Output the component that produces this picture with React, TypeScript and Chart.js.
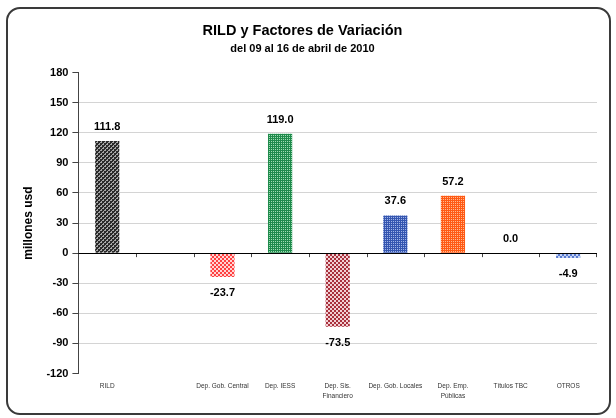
import React, { useEffect, useRef } from "react";
import { Chart, registerables } from "chart.js";

Chart.register(...registerables);

const TITLE = "RILD y Factores de Variación";
const SUBTITLE = "del 09 al 16 de abril de 2010";
const Y_TITLE = "millones usd";

const categories: (string | string[])[] = [
  "RILD",
  "",
  "Dep. Gob. Central",
  "Dep. IESS",
  ["Dep. Sis.", "Financiero"],
  "Dep. Gob. Locales",
  ["Dep. Emp.", "Públicas"],
  "Títulos TBC",
  "OTROS",
];
const values: (number | null)[] = [111.8, null, -23.7, 119.0, -73.5, 37.6, 57.2, 0.0, -4.9];
const darkColors = ["#2a2a2a", "#888", "#ff4040", "#1f8a4c", "#a8303c", "#3556b0", "#ff5a14", "#888", "#5a7cd0"];
const lightColors = ["#a8a8a8", "#ccc", "#ffd4d4", "#a0dcb4", "#f2d0d4", "#a0b4e8", "#ffb890", "#ccc", "#c4d2f4"];
const patternKinds = ["diag", "dots", "check", "dots", "check", "dots", "dots", "dots", "check"];
const yMin = -120;
const yMax = 180;
const yStep = 30;

const FONT = "'Liberation Sans', Arial, sans-serif";

function makePattern(dark: string, light: string, kind: string): CanvasPattern | string {
  const c = document.createElement("canvas");
  c.width = 4;
  c.height = 4;
  const ctx = c.getContext("2d");
  if (!ctx) return dark;
  ctx.fillStyle = light;
  ctx.fillRect(0, 0, 4, 4);
  ctx.fillStyle = dark;
  for (let x = 0; x < 4; x++) {
    for (let y = 0; y < 4; y++) {
      let on = false;
      if (kind === "diag") on = (x + y) % 4 < 2 || ((x + y) % 4 === 3 && x % 2 === 0);
      else if (kind === "dots") on = !(x % 2 === 1 && y % 2 === 1);
      else on = (Math.floor(x / 2) + Math.floor(y / 2)) % 2 === 0;
      if (on) ctx.fillRect(x, y, 1, 1);
    }
  }
  return ctx.createPattern(c, "repeat") || dark;
}

const valueLabels = {
  id: "valueLabels",
  afterDatasetsDraw(chart: any) {
    const ctx = chart.ctx;
    const meta = chart.getDatasetMeta(0);
    ctx.save();
    ctx.font = `bold 11px ${FONT}`;
    ctx.fillStyle = "#000";
    ctx.textAlign = "center";
    ctx.textBaseline = "middle";
    meta.data.forEach((bar: any, i: number) => {
      const v = values[i];
      if (v === null || v === undefined) return;
      const y = v >= 0 ? bar.y - 14 : bar.y + 16;
      ctx.fillText(v.toFixed(1), bar.x, y);
    });
    ctx.restore();
  },
};

const zeroTicks = {
  id: "zeroTicks",
  afterDatasetsDraw(chart: any) {
    const ctx = chart.ctx;
    const xs = chart.scales.x;
    const ys = chart.scales.y;
    const y0 = ys.getPixelForValue(0);
    ctx.save();
    ctx.strokeStyle = "#444";
    ctx.lineWidth = 1;
    ctx.beginPath();
    for (let i = 1; i <= categories.length; i++) {
      const xb = Math.round((xs.getPixelForValue(i - 1) + xs.getPixelForValue(i)) / 2) + 0.5;
      const xx = i === categories.length ? Math.round(chart.chartArea.right) - 0.5 : xb;
      ctx.moveTo(xx, y0);
      ctx.lineTo(xx, y0 + 4);
    }
    ctx.stroke();
    ctx.strokeStyle = "#000";
    ctx.beginPath();
    ctx.moveTo(chart.chartArea.left, Math.round(y0) + 0.5);
    ctx.lineTo(chart.chartArea.right, Math.round(y0) + 0.5);
    ctx.stroke();
    ctx.restore();
  },
};

export default function App() {
  const ref = useRef<HTMLCanvasElement | null>(null);

  useEffect(() => {
    document.body.style.margin = "0";
    if (!ref.current) return;
    const bg = values.map((_, i) => makePattern(darkColors[i], lightColors[i], patternKinds[i]));
    const yTickValues: number[] = [];
    for (let v = yMin; v <= yMax; v += yStep) yTickValues.push(v);

    const chart = new Chart(ref.current, {
      type: "bar",
      data: {
        labels: categories,
        datasets: [
          {
            data: values,
            backgroundColor: bg as any,
            borderWidth: 0,
            barPercentage: 0.42,
            categoryPercentage: 1,
          },
        ],
      },
      options: {
        responsive: false,
        animation: false,
        maintainAspectRatio: false,
        layout: { padding: { left: 8, right: 19, top: 22, bottom: 9 } },
        plugins: {
          legend: { display: false },
          tooltip: { enabled: false },
          title: {
            display: true,
            text: TITLE,
            color: "#000",
            font: { family: FONT, size: 14.5, weight: "bold", lineHeight: 1.2 },
            padding: { top: 0, bottom: 0 },
          },
          subtitle: {
            display: true,
            text: SUBTITLE,
            color: "#000",
            font: { family: FONT, size: 11, weight: "bold", lineHeight: 1.2 },
            padding: { top: 3, bottom: 17 },
          },
        },
        scales: {
          x: {
            grid: { display: false, drawTicks: false },
            border: { display: false },
            ticks: {
              color: "#333",
              font: { family: FONT, size: 6.5, lineHeight: 1.5 },
              padding: 8,
              maxRotation: 0,
              autoSkip: false,
            },
          },
          y: {
            min: yMin,
            max: yMax,
            afterBuildTicks: (scale: any) => {
              scale.ticks = yTickValues.map((v) => ({ value: v }));
            },
            grid: {
              color: (c: any) => {
                const v = c.tick ? c.tick.value : null;
                if (v === yMax || v === yMin || v === 0) return "rgba(0,0,0,0)";
                return "#d4d4d4";
              },
              tickColor: "#444",
              tickLength: 6,
              drawTicks: true,
            },
            border: { display: true, color: "#444", width: 1 },
            ticks: {
              color: "#000",
              font: { family: FONT, size: 11, weight: "bold" },
              padding: 4,
            },
            title: {
              display: true,
              text: Y_TITLE,
              color: "#000",
              font: { family: FONT, size: 12, weight: "bold", lineHeight: 1.2 },
              padding: { top: 13, bottom: 7 },
            },
          },
        },
      },
      plugins: [zeroTicks, valueLabels],
    });
    return () => chart.destroy();
  }, []);

  return (
    <div style={{ position: "relative", width: 616, height: 418, background: "#fff", overflow: "hidden" }}>
      <div
        style={{
          position: "absolute",
          left: 6,
          top: 7,
          width: 601,
          height: 404,
          border: "2px solid #3a3a3a",
          borderRadius: 14,
          boxSizing: "content-box",
        }}
      />
      <canvas ref={ref} width={616} height={418} style={{ position: "absolute", left: 0, top: 0 }} />
    </div>
  );
}
